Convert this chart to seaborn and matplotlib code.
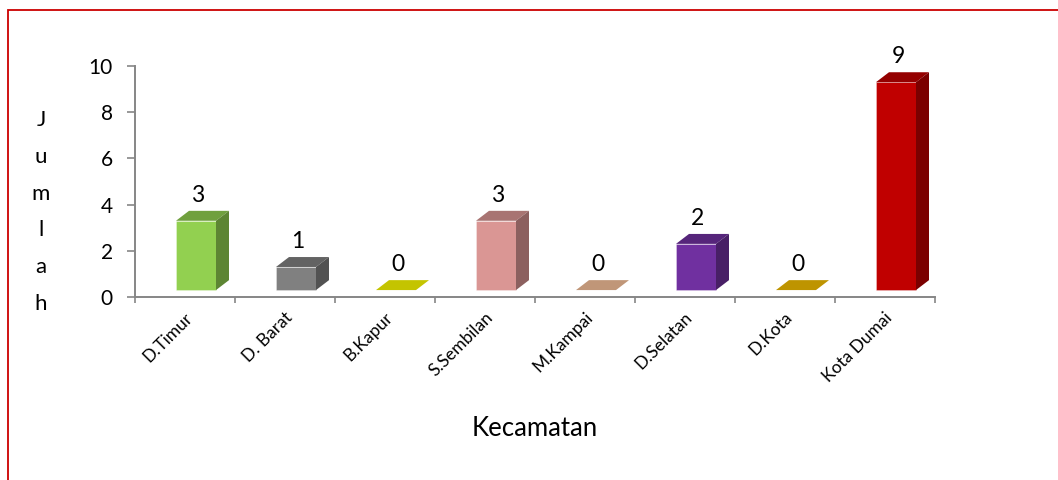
import numpy as np
import pandas as pd
import matplotlib
matplotlib.use("Agg")
import matplotlib.pyplot as plt
import matplotlib.colors as mcolors
import matplotlib.transforms as mtransforms
from matplotlib.patches import Polygon, Rectangle
import seaborn as sns

# ---- data ----
categories = ["D.Timur", "D. Barat", "B.Kapur", "S.Sembilan", "M.Kampai",
              "D.Selatan", "D.Kota", "Kota Dumai"]
values = [3, 1, 0, 3, 0, 2, 0, 9]
bar_colors = ["#92D050", "#808080", "#FFFF00", "#DA9694", "#F9C39C",
              "#7030A0", "#F7C000", "#C00000"]
yticks = [0, 2, 4, 6, 8, 10]
xlabel = "Kecamatan"
ylabel = "J\nu\nm\nl\na\nh"

sns.set_theme(style="white")
plt.rcParams["font.family"] = ["Lato", "DejaVu Sans"]

fig = plt.figure(figsize=(10.58, 4.8), dpi=100)
ax = fig.add_axes([135 / 1058, 1 - 297 / 480, 800 / 1058, 231 / 480])

df = pd.DataFrame({"Kecamatan": categories, "Jumlah": values})
sns.barplot(data=df, x="Kecamatan", y="Jumlah", hue="Kecamatan",
            palette=bar_colors, width=0.4, legend=False, ax=ax,
            linewidth=0, saturation=1)

ax.set_xlim(-0.5, 7.5)
ax.set_ylim(0, 10)

# 3D effect (style offsets, data units)
shift_x, shift_y = 0.11, 0.30
depth_x, depth_y = 0.13, 0.43
top_f, side_f = 0.77, 0.64

def darker(c, f):
    r, g, b = mcolors.to_rgb(c)
    return (r * f, g * f, b * f)

for p, col, v in zip(ax.patches, bar_colors, values):
    x, w, h = p.get_x(), p.get_width(), p.get_height()
    x0 = x + shift_x
    y0 = shift_y
    p.set_x(x0)
    p.set_y(y0)
    p.set_edgecolor(mcolors.to_rgba("white", 0.35))
    p.set_linewidth(0.6)
    top = Polygon([(x0, y0 + h), (x0 + w, y0 + h),
                   (x0 + w + depth_x, y0 + h + depth_y),
                   (x0 + depth_x, y0 + h + depth_y)],
                  closed=True, facecolor=darker(col, top_f), edgecolor="none",
                  zorder=p.get_zorder())
    side = Polygon([(x0 + w, y0), (x0 + w, y0 + h),
                    (x0 + w + depth_x, y0 + h + depth_y),
                    (x0 + w + depth_x, y0 + depth_y)],
                   closed=True, facecolor=darker(col, side_f), edgecolor="none",
                   zorder=p.get_zorder())
    ax.add_patch(top)
    ax.add_patch(side)
    ax.annotate(str(v), xy=(x0 + w / 2 + 0.02, y0 + h + depth_y),
                xytext=(0, 6.5), textcoords="offset points",
                ha="center", va="baseline", fontsize=16.5, color="black")

# axes styling
spine_c = "#868686"
for s in ["top", "right"]:
    ax.spines[s].set_visible(False)
for s in ["left", "bottom"]:
    ax.spines[s].set_color(spine_c)
    ax.spines[s].set_linewidth(1.4)

ax.set_yticks(yticks)
ax.tick_params(axis="y", which="major", left=True, length=6, width=1.2,
               color=spine_c, labelsize=15, pad=10, labelcolor="black")

ax.set_xticks(np.arange(len(categories)))
ax.set_xticks(np.arange(-0.5, len(categories), 1), minor=True)
ax.tick_params(axis="x", which="major", bottom=False, length=0, pad=13)
ax.tick_params(axis="x", which="minor", bottom=True, length=4, width=1.2,
               color=spine_c, direction="out")
ax.set_xticklabels(categories, rotation=45, ha="right", va="center",
                   rotation_mode="anchor", fontsize=12.5, color="black")
off = mtransforms.ScaledTranslation(0.05, 0, fig.dpi_scale_trans)
for lab in ax.get_xticklabels():
    lab.set_transform(lab.get_transform() + off)

ax.set_xlabel(xlabel, fontsize=18.5, color="black", va="center")
ax.xaxis.set_label_coords(0.5, -131 / 231)
ax.set_ylabel(ylabel, rotation=0, fontsize=16, color="black",
              ha="center", va="center", linespacing=2.05)
ax.yaxis.set_label_coords(-94 / 800, (297 - 212) / 231)

# red frame around the chart
fig.patches.append(Rectangle((8 / 1058, -0.1), 1.2, 1.1 - 10 / 480,
                             transform=fig.transFigure, fill=False,
                             edgecolor="#CC0000", linewidth=1.3,
                             figure=fig, clip_on=False))

fig.savefig("out.png", dpi=100, facecolor="white")
